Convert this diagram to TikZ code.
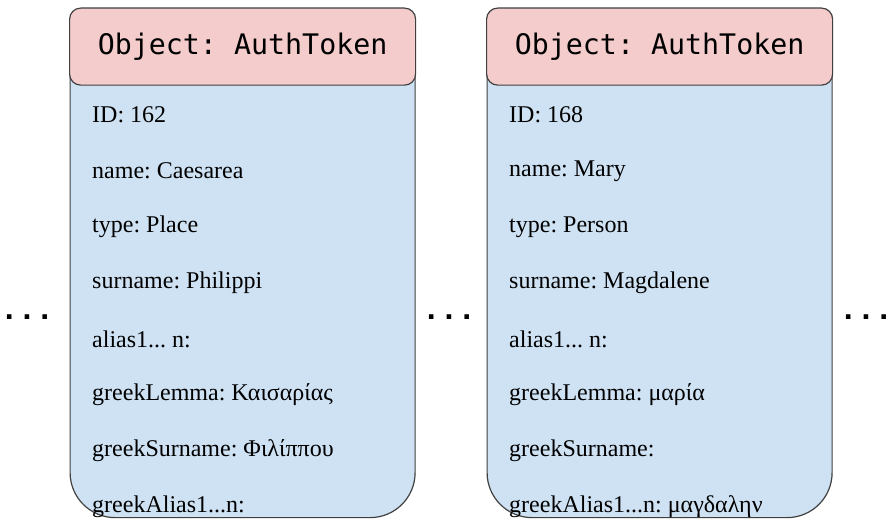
\documentclass[tikz,border=0pt]{standalone}
\usepackage{fontspec}
\setmainfont{Liberation Serif}
\newfontfamily\monofnt{DejaVu Sans Mono}
\newfontfamily\dotfnt{Liberation Sans}
\frenchspacing
\definecolor{hdrpink}{HTML}{F4CCCC}
\definecolor{bodyblue}{HTML}{CFE2F3}
\definecolor{edge}{HTML}{404040}
\tikzset{
  cardbody/.style={draw=edge, line width=1.2pt, fill=bodyblue, rounded corners=45pt,
    minimum width=345pt, minimum height=487pt, inner sep=0pt, anchor=north west},
  cardhead/.style={draw=edge, line width=1.2pt, fill=hdrpink, rounded corners=11pt,
    minimum width=346pt, minimum height=77pt, inner sep=0pt, anchor=north west,
    font=\monofnt\fontsize{28.3}{32}\selectfont},
  field/.style={anchor=west, inner sep=0pt, font=\fontsize{24}{28}\selectfont},
  dots/.style={inner sep=0pt, font=\dotfnt\bfseries\fontsize{32}{36}\selectfont}
}
\begin{document}
\frenchspacing
\begin{tikzpicture}[x=1pt,y=-1pt]
\useasboundingbox (0,0) rectangle (890,519);
% left card
\node[cardbody] (b1) at (69.5,30) {};
\node[cardhead] (h1) at (69,7.5) {Object: AuthToken};
\node[field] (f11) at (92,115) {ID: 162};
\node[field] (f12) at (92,171) {name: Caesarea};
\node[field] (f13) at (92,227) {type: Place};
\node[field] (f14) at (92,283) {surname: Philippi};
\node[field] (f15) at (92,339) {alias1... n:};
\node[field] (f16) at (92,395) {greekLemma: Καισαρίας};
\node[field] (f17) at (92,451) {greekSurname: Φιλίππου};
\node[field] (f18) at (92,507) {greekAlias1...n:};
% right card
\node[cardbody] (b2) at (486.5,30) {};
\node[cardhead] (h2) at (486,7.5) {Object: AuthToken};
\node[field] (f21) at (509,115) {ID: 168};
\node[field] (f22) at (509,171) {name: Mary};
\node[field] (f23) at (509,227) {type: Person};
\node[field] (f24) at (509,283) {surname: Magdalene};
\node[field] (f25) at (509,339) {alias1... n:};
\node[field] (f26) at (509,395) {greekLemma: μαρία};
\node[field] (f27) at (509,451) {greekSurname:};
\node[field] (f28) at (509,507) {greekAlias1...n: μαγδαλην};
% ellipses
\node[dots] (d1) at (27,317) {. . .};
\node[dots] (d2) at (449,317) {. . .};
\node[dots] (d3) at (866,317) {. . .};
\end{tikzpicture}
\end{document}
